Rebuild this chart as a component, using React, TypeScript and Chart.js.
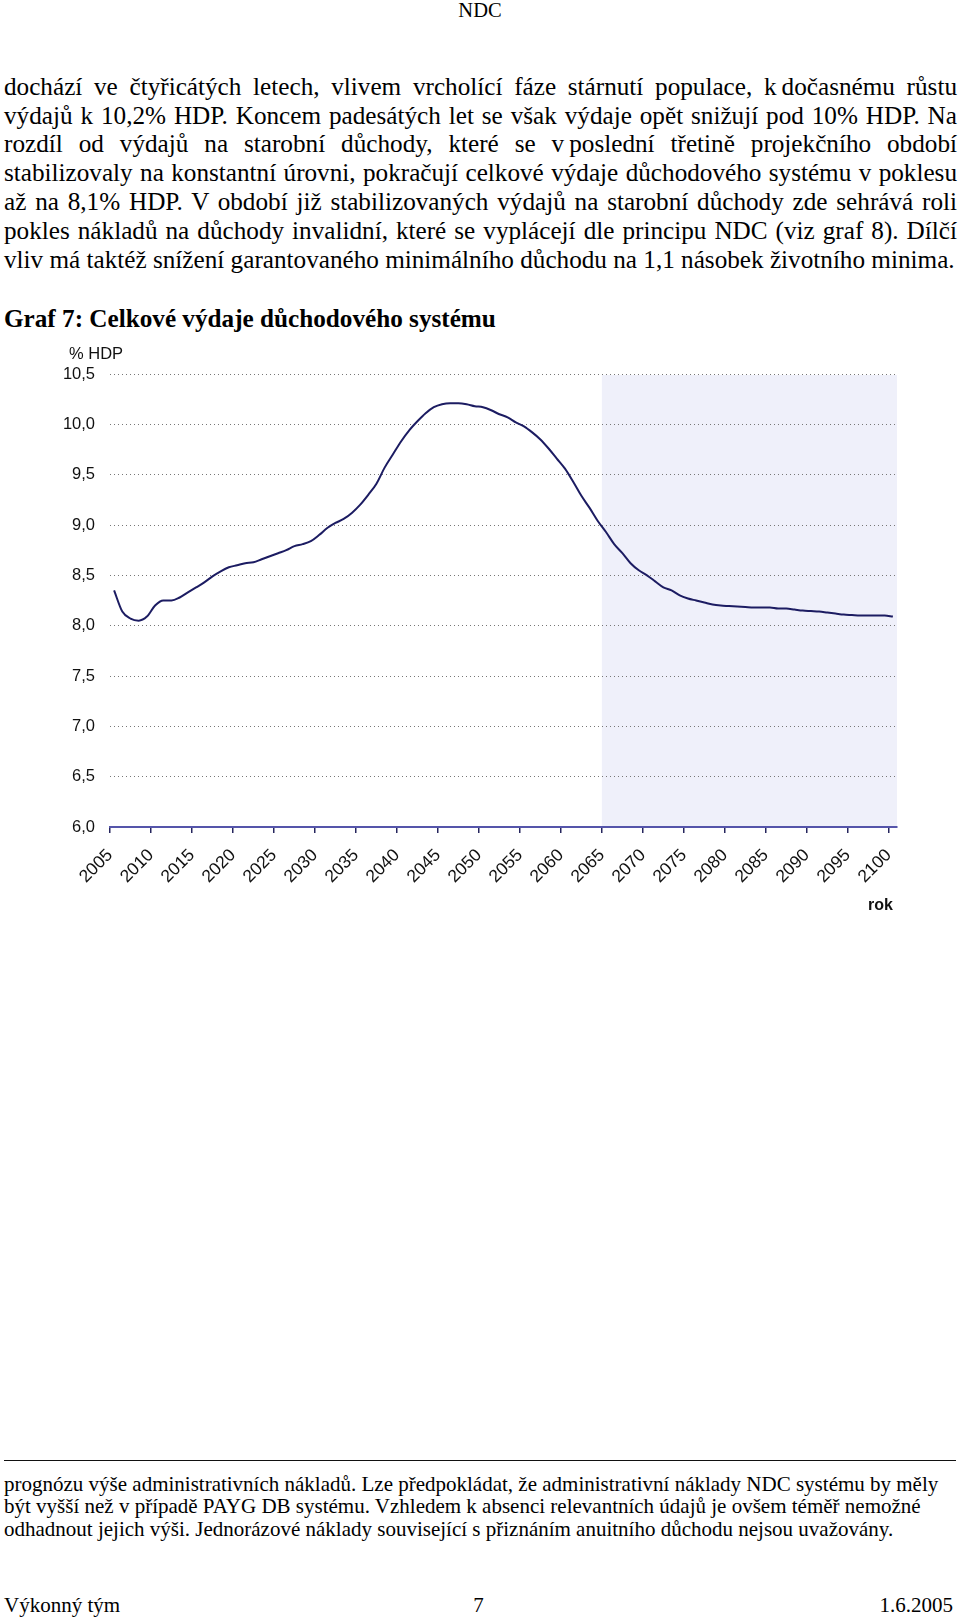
import React, { useEffect, useRef } from "react";
import { Chart, registerables } from "chart.js";

Chart.register(...registerables);

// ---------- data ----------
const YEARS: number[] = [
  2005, 2006, 2007, 2008, 2009, 2010, 2011, 2012, 2013, 2014,
  2015, 2016, 2017, 2018, 2019, 2020, 2021, 2022, 2023, 2024,
  2025, 2026, 2027, 2028, 2029, 2030, 2031, 2032, 2033, 2034,
  2035, 2036, 2037, 2038, 2039, 2040, 2041, 2042, 2043, 2044,
  2045, 2046, 2047, 2048, 2049, 2050, 2051, 2052, 2053, 2054,
  2055, 2056, 2057, 2058, 2059, 2060, 2061, 2062, 2063, 2064,
  2065, 2066, 2067, 2068, 2069, 2070, 2071, 2072, 2073, 2074,
  2075, 2076, 2077, 2078, 2079, 2080, 2081, 2082, 2083, 2084,
  2085, 2086, 2087, 2088, 2089, 2090, 2091, 2092, 2093, 2094,
  2095, 2096, 2097, 2098, 2099, 2100,
];

const EXPENDITURE: number[] = [
  8.35, 8.14, 8.07, 8.05, 8.09, 8.2, 8.25, 8.25, 8.28, 8.33,
  8.38, 8.43, 8.49, 8.54, 8.58, 8.6, 8.62, 8.63, 8.66, 8.69,
  8.72, 8.75, 8.79, 8.81, 8.84, 8.9, 8.97, 9.02, 9.06, 9.12,
  9.2, 9.3, 9.41, 9.57, 9.7, 9.83, 9.94, 10.03, 10.11, 10.17,
  10.2, 10.21, 10.21, 10.2, 10.18, 10.17, 10.14, 10.1, 10.07, 10.02,
  9.98, 9.92, 9.85, 9.76, 9.66, 9.56, 9.43, 9.29, 9.17, 9.04,
  8.93, 8.81, 8.72, 8.62, 8.55, 8.5, 8.44, 8.38, 8.35, 8.3,
  8.27, 8.25, 8.23, 8.21, 8.2, 8.195, 8.19, 8.185, 8.18, 8.18,
  8.18, 8.17, 8.17, 8.16, 8.15, 8.145, 8.14, 8.13, 8.12, 8.11,
  8.105, 8.1, 8.1, 8.1, 8.1, 8.09,
];

const X_TICK_YEARS: number[] = [
  2005, 2010, 2015, 2020, 2025, 2030, 2035, 2040, 2045, 2050,
  2055, 2060, 2065, 2070, 2075, 2080, 2085, 2090, 2095, 2100,
];
const Y_MIN = 6;
const Y_MAX = 10.5;
const Y_STEP = 0.5;
const X_START = 2005;
const X_END = 2101;
const SHADE_FROM_YEAR = 2065;

const Y_UNIT_LABEL = "% HDP";
const X_UNIT_LABEL = "rok";

const BODY_LINES: string[] = [
  "dochází ve čtyřicátých letech, vlivem vrcholící fáze stárnutí populace, k\u2009dočasnému růstu",
  "výdajů k 10,2% HDP. Koncem padesátých let se však výdaje opět snižují pod 10% HDP. Na",
  "rozdíl od výdajů na starobní důchody, které se v\u2009poslední třetině projekčního období",
  "stabilizovaly na konstantní úrovni, pokračují celkové výdaje důchodového systému v poklesu",
  "až na 8,1% HDP. V období již stabilizovaných výdajů na starobní důchody zde sehrává roli",
  "pokles nákladů na důchody invalidní, které se vyplácejí dle principu NDC (viz graf 8). Dílčí",
  "vliv má taktéž snížení garantovaného minimálního důchodu na 1,1 násobek životního minima.",
];

const TITLE = "Graf 7: Celkové výdaje důchodového systému";

const FOOTNOTE_LINES: string[] = [
  "prognózu výše administrativních nákladů. Lze předpokládat, že administrativní náklady NDC systému by měly",
  "být vyšší než v případě PAYG DB systému. Vzhledem k absenci relevantních údajů je ovšem téměř nemožné",
  "odhadnout jejich výši. Jednorázové náklady související s přiznáním anuitního důchodu nejsou uvažovány.",
];

const HEADER = "NDC";
const FOOTER_LEFT = "Výkonný tým";
const FOOTER_CENTER = "7";
const FOOTER_RIGHT = "1.6.2005";

// ---------- chart ----------
const SANS = "'Liberation Sans', Arial, sans-serif";
const SERIF = "'Liberation Serif', 'Times New Roman', serif";

const shadePlugin = {
  id: "shadeRegion",
  beforeDraw(chart: any) {
    const { ctx, chartArea, scales } = chart;
    const x0 = scales.x.getPixelForValue(SHADE_FROM_YEAR);
    ctx.save();
    ctx.fillStyle = "#eff0fa";
    ctx.fillRect(x0, chartArea.top + 1, chartArea.right - x0, chartArea.bottom - chartArea.top - 1);
    ctx.restore();
  },
};

const labelsPlugin = {
  id: "unitLabels",
  afterDraw(chart: any) {
    const { ctx, chartArea } = chart;
    ctx.save();
    ctx.fillStyle = "#111";
    ctx.textBaseline = "middle";
    ctx.font = `16.5px ${SANS}`;
    ctx.textAlign = "left";
    ctx.fillText(Y_UNIT_LABEL, 69, chartArea.top - 20);
    ctx.font = `bold 16px ${SANS}`;
    ctx.textAlign = "right";
    ctx.fillText(X_UNIT_LABEL, chartArea.right - 4, chartArea.bottom + 79);
    ctx.restore();
  },
};

function ExpenditureChart() {
  const ref = useRef<HTMLCanvasElement | null>(null);
  useEffect(() => {
    if (!ref.current) return;
    const chart = new Chart(ref.current, {
      type: "line",
      data: {
        datasets: [
          {
            data: YEARS.map((y, i) => ({ x: y + 0.5, y: EXPENDITURE[i] })),
            borderColor: "#1c1c62",
            borderWidth: 2,
            pointRadius: 0,
            cubicInterpolationMode: "monotone",
            fill: false,
          },
        ],
      },
      options: {
        animation: false,
        responsive: false,
        maintainAspectRatio: false,
        devicePixelRatio: 1,
        layout: { padding: { top: 44, right: 63, left: 0, bottom: 0 } },
        plugins: {
          legend: { display: false },
          tooltip: { enabled: false },
          title: { display: false },
        },
        scales: {
          x: {
            type: "linear",
            min: X_START,
            max: X_END,
            afterBuildTicks: (s: any) => {
              s.ticks = X_TICK_YEARS.map((v) => ({ value: v }));
            },
            afterFit: (s: any) => {
              s.height = 103;
            },
            ticks: {
              autoSkip: false,
              minRotation: 45,
              maxRotation: 45,
              padding: 12,
              color: "#111",
              font: { family: SANS, size: 17.5 },
              callback: (v: any) => String(v),
            },
            grid: {
              display: true,
              drawOnChartArea: false,
              drawTicks: true,
              tickLength: 6,
              color: "#26265e",
              lineWidth: 1.5,
            },
            border: { display: true, color: "#5555aa", width: 2 },
          },
          y: {
            min: Y_MIN,
            max: Y_MAX,
            afterFit: (s: any) => {
              s.width = 110;
            },
            ticks: {
              stepSize: Y_STEP,
              padding: 15,
              color: "#111",
              font: { family: SANS, size: 16.5 },
              callback: (v: any) => Number(v).toFixed(1).replace(".", ","),
            },
            grid: {
              drawTicks: false,
              color: (c: any) => (c.tick && c.tick.value === Y_MIN ? "rgba(0,0,0,0)" : "#777"),
              lineWidth: 1,
            },
            border: { display: false, dash: [1, 3] },
          },
        },
      } as any,
      plugins: [shadePlugin, labelsPlugin],
    });
    return () => chart.destroy();
  }, []);
  return (
    <canvas
      ref={ref}
      width={960}
      height={600}
      style={{ position: "absolute", left: 0, top: 330, width: 960, height: 600 }}
    />
  );
}

export default function App() {
  const body: React.CSSProperties = {
    fontFamily: SERIF,
    fontSize: 25.2,
    lineHeight: "28.9px",
    color: "#000",
  };
  return (
    <div
      style={{
        position: "absolute",
        left: 0,
        top: 0,
        width: 960,
        height: 1617,
        background: "#fff",
        overflow: "hidden",
        fontFamily: SERIF,
        color: "#000",
      }}
    >
      <div
        style={{
          position: "absolute",
          top: -2,
          left: 0,
          width: 960,
          textAlign: "center",
          fontSize: 20.5,
          lineHeight: "24px",
        }}
      >
        {HEADER}
      </div>

      <div style={{ position: "absolute", top: 72.7, left: 4, width: 953, ...body }}>
        {BODY_LINES.map((l, i) => (
          <div
            key={i}
            style={{
              textAlign: i < BODY_LINES.length - 1 ? "justify" : "left",
              textAlignLast: i < BODY_LINES.length - 1 ? "justify" : "left",
              height: 28.9,
            }}
          >
            {l}
          </div>
        ))}
      </div>

      <div
        style={{
          position: "absolute",
          top: 304.5,
          left: 4,
          fontSize: 25.2,
          lineHeight: "28.9px",
          fontWeight: "bold",
          whiteSpace: "nowrap",
        }}
      >
        {TITLE}
      </div>

      <ExpenditureChart />

      <div
        style={{
          position: "absolute",
          top: 1460,
          left: 4,
          width: 952,
          height: 0,
          borderTop: "1px solid #111",
        }}
      />

      <div
        style={{
          position: "absolute",
          top: 1472.5,
          left: 4,
          fontSize: 21,
          lineHeight: "22.8px",
          whiteSpace: "nowrap",
        }}
      >
        {FOOTNOTE_LINES.map((l, i) => (
          <div key={i}>{l}</div>
        ))}
      </div>

      <div
        style={{
          position: "absolute",
          top: 1594.4,
          left: 4,
          width: 949,
          fontSize: 21,
          lineHeight: "23px",
          display: "flex",
          justifyContent: "space-between",
          whiteSpace: "nowrap",
        }}
      >
        <span style={{ width: 200 }}>{FOOTER_LEFT}</span>
        <span style={{ width: 200, textAlign: "center" }}>{FOOTER_CENTER}</span>
        <span style={{ width: 200, textAlign: "right" }}>{FOOTER_RIGHT}</span>
      </div>
    </div>
  );
}
